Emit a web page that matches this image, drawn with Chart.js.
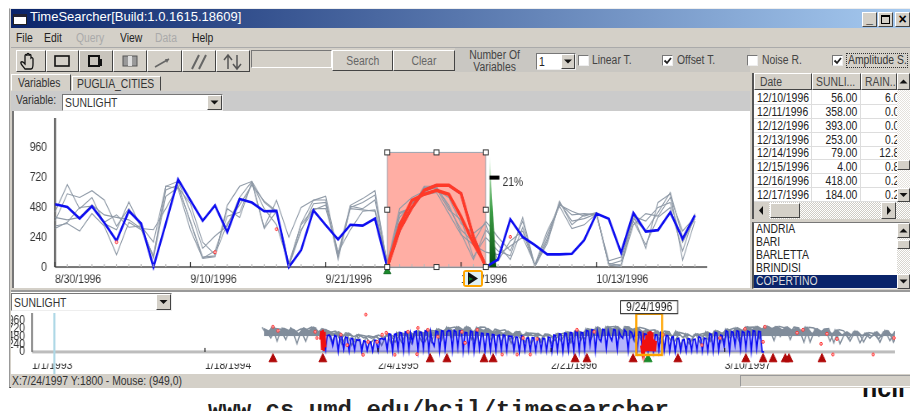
<!DOCTYPE html>
<html>
<head>
<meta charset="utf-8">
<title>TimeSearcher</title>
<script src="https://cdn.jsdelivr.net/npm/chart.js@4"></script>
<style>
  html, body { margin: 0; padding: 0; background: #fff; overflow: hidden; width: 910px; height: 411px; }
  body { position: relative; font-family: "Liberation Sans", sans-serif; font-size: 12.5px; color: #333; }
  #win { position: absolute; left: 9px; top: 8px; width: 901px; height: 380px; background: #d4d0c8; border-top: 1px solid #eee; border-left: 1px solid #999; border-bottom: 1px solid #333; box-sizing: border-box; z-index: 2; }
  .b { position: absolute; white-space: nowrap; box-sizing: border-box; }
  .b span { display: inline-block; transform: scaleX(.83); transform-origin: left center; }
  .up { background: #d4d0c8; border: 1px solid; border-color: #fff #444 #444 #fff; }
  .in { background: #fff; border: 1px solid; border-color: #777 #eee #eee #777; }
  canvas { position: absolute; z-index: 5; transform-origin: left top; transform: scaleX(.83); }
  #url { position: absolute; left: 208px; top: 397px; font: bold 24px "Liberation Mono", monospace; color: #222; white-space: nowrap; z-index: 1; }
  #logo { position: absolute; left: 862px; top: 374px; font: bold 25px "Liberation Sans", sans-serif; color: #111; z-index: 1; }
</style>
</head>
<body>
<div id="win"></div>
<div id="chrome"></div>
<div id="url">www.cs.umd.edu/hcil/timesearcher</div>
<div id="logo">hcil</div>
<canvas id="main-chart" width="887" height="178" style="left:14px;top:112px"></canvas>
<canvas id="overview-chart" width="1083" height="81" style="left:11px;top:293px"></canvas>
<script>
// main plot, one value per day from 8/30/1996
const blue = [505,484,390,489,358,211,452,350,0,350,706,537,372,497,281,548,519,449,452,0,136,457,337,222,340,334,390,0,297,479,618,658,658,591,243,0,61,385,243,176,102,102,107,217,430,388,115,436,286,297,441,227,417];
const grayA = [444,663,470,560,350,300,524,320,83,652,631,300,70,83,497,650,690,320,537,240,480,537,570,110,497,551,615,10,430,480,650,650,480,300,200,370,240,130,370,5,190,520,370,390,430,16,3,420,150,520,590,56,370];
const grayB = [370,590,560,615,540,330,470,330,200,650,690,450,150,250,330,560,690,520,440,10,350,540,540,60,480,520,580,30,470,560,610,640,500,270,60,300,180,60,320,10,260,500,450,410,440,20,50,410,370,480,520,200,390];
const grayC = [330,350,290,430,330,100,360,300,90,620,660,360,70,130,410,440,680,310,450,30,340,470,470,120,300,450,460,40,360,520,580,600,430,260,180,120,100,170,240,20,290,490,310,340,430,15,20,370,180,400,480,130,430];
const grayD = [400,380,400,500,420,400,380,310,300,470,650,370,80,90,470,400,680,470,340,20,300,460,500,100,470,460,450,20,400,510,600,620,560,350,270,350,50,210,290,5,230,530,340,420,430,30,10,340,430,410,560,290,400];
const grayE = [310,360,480,490,360,420,320,330,70,570,640,510,200,100,350,500,660,530,450,5,290,510,520,80,490,470,540,15,440,480,640,630,460,380,80,240,130,90,400,10,210,510,420,430,420,50,80,390,290,440,600,240,410];
const redIdx = [27,28,29,30,31,32,33,34,35];
const redA = [0,337,537,586,618,586,404,190,16];
const redB = [0,297,479,618,658,658,591,243,0];
const dotIdx = [5,13,18,37];
const dotVal = [200,120,305,243];
const greenIdx = [35.3,35.3,35.86];
const greenVal = [0,915,0];
const yTicks = [0,240,480,720,960];
const dateIdx = [0,11,22,33,44];
const dateLabels = ['8/30/1996','9/10/1996','9/21/1996','10/2/1996','10/13/1996'];

// overview, x is days since 1/1/1993
const ovGrayStep = 11;
const ovGrayA = [760,520,780,330,740,560,700,250,720,690,770,560,720,
  650,300,600,240,560,200,520,180,480,420,500,200,
  560,240,600,300,620,260,640,330,680,300,700,360,
  760,420,770,500,780,380,760,460,720,340,
  680,300,640,260,620,360,600,240,560,300,
  540,240,560,340,620,280,640,360,720,380,
  760,420,780,500,790,560,770,430,750,380,
  690,300,660,280,610,360,640,220,560,300,
  560,260,620,320,660,280,700,400,740,360,
  770,500,780,430,790,620,780,470,760,380,
  750,560,770,300,720,610,700,330,680,250,
  600,330,640,280,580,420,610,300,660,350,640];
const ovGrayB = [720,640,760,600,730,660,690,560,740,650,760,620,700,
  640,560,620,500,580,470,540,430,500,460,520,440,
  560,480,600,520,640,540,660,580,690,600,710,640,
  760,640,780,680,770,620,750,660,720,600,
  660,560,640,540,620,520,590,500,570,480,
  540,470,570,500,620,540,660,580,720,640,
  770,650,790,700,780,640,770,690,750,620,
  680,560,650,500,610,480,620,450,560,460,
  560,480,620,540,650,570,710,620,750,660,
  780,690,790,700,800,720,780,680,770,660,
  750,640,760,560,720,620,700,560,680,520,
  620,520,640,500,590,480,620,470,660,520,640];
const ovGrayC = [680,430,720,700,380,740,620,710,330,700,740,450,690,
  610,640,350,590,550,280,520,490,260,470,390,480,
  530,300,580,560,360,620,600,320,670,650,400,690,
  740,770,500,760,740,300,770,760,480,700,
  650,680,380,610,630,300,580,570,320,550,
  530,350,550,580,300,640,620,400,700,680,
  740,500,770,780,420,780,760,320,760,720,
  660,680,380,640,620,300,600,560,250,540,
  540,570,330,640,620,350,680,730,330,720,
  760,770,420,790,770,350,790,750,500,770,
  740,300,760,740,480,700,720,280,690,650,
  400,630,600,300,600,570,390,620,640,300,630];
const ovBlueStep = 4;
const ovBlue = [480,420,60,500,520,460,200,510,480,30,500,470,90,460,440,30,420,400,60,380,360,380,20,340,330,50,300,310,30,360,350,40,400,420,380,
  430,80,560,540,30,540,560,100,600,580,40,620,600,60,580,300,620,640,30,610,600,90,650,630,40,620,300,180,640,620,40,650,640,90,620,
  660,640,60,660,620,120,650,640,30,600,590,80,640,620,40,620,600,110,580,570,30,560,550,60,540,530,40,500,520,70,520,510,30,490,480,
  480,60,460,450,20,500,470,50,420,430,30,440,430,20,400,410,50,420,400,30,460,440,20,520,500,50,560,540,30,580,560,60,600,590,30,
  640,620,30,600,590,60,660,640,200,680,660,40,640,400,320,700,680,120,660,480,350,690,670,90,640,500,420,680,620,60,640,600,400,620,60,
  620,600,30,560,540,40,580,560,20,530,520,40,600,580,50,510,500,30,450,470,20,400,420,40,360,380,20,410,400,30,380,390,50,470,440,
  20,430,410,30,560,540,40,600,580,60,520,500,180,650,620,40,630,600,200,650,630,90,630,600,120,640,620,30,650,640,100,630,620,0,0];
const ovRedDays1 = [636,638,640,642,644,646,648];
const ovRedVals1 = [380,640,60,680,30,620,140];
const ovRedDays2 = [1345,1347,1349,1351,1353,1355,1357,1359,1361,1363,1365,1367,1369,1371,1373,1375,1377];
const ovRedVals2 = [200,20,300,30,380,20,520,30,620,20,640,20,600,20,380,20,340];
const ovDotDays = [532,543,625,629,682,696,737,742,773,782,762,830,852,874,896,949,956,731,801,850,983,1084,1115,1203,1241,1393,1038,1071,1100,1479,1519,1574,1618,1614,1689,1702,1742,1755,1777,1903,1768,1857];
const ovDotVals = [775,650,620,430,530,210,1150,310,530,590,310,620,740,680,470,620,280,-90,-90,-70,680,430,400,680,620,530,-80,-80,-80,210,430,710,775,310,590,680,250,560,400,430,-80,-80];
const ovTriDays = [532,642,879,916,998,1018,1199,1225,1327,1426,1576,1614,1636,1663,1671,1744];
const ovCurrentDay = [1360];
const ovDateDays = [0,382,764,1146,1529];
const ovDateLabels = ['1/1/1993','1/18/1994','2/4/1995','2/21/1996','3/10/1997'];

// table and list in the side panels
const tableDates = ['12/10/1996','12/11/1996','12/12/1996','12/13/1996','12/14/1996','12/15/1996','12/16/1996','12/17/1996'];
const tableSun = ['56.00','358.00','393.00','253.00','79.00','4.00','418.00','184.00'];
const tableRain = ['6.0','0.0','0.0','0.2','12.8','0.8','0.2','0.2'];
const cities = ['ANDRIA','BARI','BARLETTA','BRINDISI','COPERTINO'];

// the screenshot is squeezed sideways, canvases get the same squeeze through css
const sq = 0.83;
const labelFont = { family: '"Liberation Sans"', size: 12.5 };

const chrome = document.getElementById('chrome');
function box(x, y, w, h, cls, text, css) {
  const d = document.createElement('div');
  d.className = 'b ' + (cls || '');
  d.style.cssText = `left:${x}px;top:${y}px;width:${w}px;height:${h}px;line-height:${h}px;z-index:3;` + (css || '');
  if (text) {
    const s = document.createElement('span');
    s.textContent = text;
    css = css || '';
    if (css.includes('font:')) s.style.transform = 'none';
    if (css.includes('text-align:center')) s.style.transformOrigin = 'center center';
    if (css.includes('text-align:right')) s.style.transformOrigin = 'right center';
    d.appendChild(s);
  }
  chrome.appendChild(d);
  return d;
}
function svgBox(x, y, w, h, inner) {
  const d = box(x, y, w, h, '', '');
  d.innerHTML = `<svg width="${w}" height="${h}" style="display:block">${inner}</svg>`;
  return d;
}
function arrowBtn(x, y, w, h, down) {
  box(x, y, w, h, 'up');
  const pts = down ? `${w/2-4},${h/2-2} ${w/2+4},${h/2-2} ${w/2},${h/2+2}` : `${w/2-4},${h/2+2} ${w/2+4},${h/2+2} ${w/2},${h/2-2}`;
  svgBox(x, y, w, h, `<polygon points="${pts}" fill="#111"/>`);
}
function check(x, y, on) {
  box(x, y, 11, 11, 'in');
  if (on) svgBox(x, y, 11, 11, '<path d="M2.5 5.5l2.5 2.5 4-5" stroke="#222" stroke-width="1.8" fill="none"/>');
}

// title bar
box(11, 9, 899, 19, '', '', 'background:linear-gradient(90deg,#0a246a,#a6caf0)');
box(13, 14, 14, 11, '', '', 'background:#fff;border:1px solid #222;border-top:3px solid #223');
box(30, 9, 300, 19, '', 'TimeSearcher[Build:1.0.1615.18609]', 'color:#fff;font:13px "Liberation Sans",sans-serif');
box(862, 12, 15, 15, 'up', '_', 'text-align:center;color:#000;font:bold 12px/12px "Liberation Sans"');
box(878, 12, 15, 15, 'up');
box(881, 15, 9, 9, '', '', 'border:1px solid #000;border-top:2px solid #000');
box(895, 12, 15, 15, 'up', '×', 'text-align:center;color:#000;font:bold 14px/13px "Liberation Sans"');

// menu
const menu = [['File',16,0],['Edit',44,0],['Query',76,1],['View',120,0],['Data',155,1],['Help',192,0]];
menu.forEach(m => box(m[1], 30, 40, 16, '', m[0], m[2] ? 'color:#aaa;' : 'color:#222;'));

// toolbar
box(11, 47, 899, 1, '', '', 'background:#aaa');
const toolX = [16,46,79,113,147,182,216];
const toolIcons = [
  '<path d="M9 19c-2-3-5-5-4-7 2-1 3 1 4 2V6c0-2 2-2 2 0v-1c0-2 2-2 2 0v1c0-2 2-2 2 0v2c1-1 2 0 2 1v5c0 3-1 5-2 5z" fill="none" stroke="#111" stroke-width="1.3"/>',
  '<rect x="9" y="6" width="14" height="10" fill="none" stroke="#111" stroke-width="1.6"/>',
  '<rect x="10" y="6" width="10" height="10" fill="none" stroke="#111" stroke-width="2"/><rect x="21" y="9" width="2" height="7" fill="#111"/>',
  '<rect x="10" y="6" width="14" height="10" fill="#999" stroke="#555"/><rect x="15" y="6" width="4" height="10" fill="#ddd"/>',
  '<path d="M8 17l14-8" stroke="#666" stroke-width="1.5"/><path d="M22 9l-4 0 2 4z" fill="#666"/>',
  '<path d="M10 19l7-14M17 19l7-14" stroke="#666" stroke-width="2"/>',
  '<path d="M12 19V6M8 10l4-5 4 5M21 5v13M17 14l4 5 4-5" fill="none" stroke="#555" stroke-width="1.5"/>'
];
toolX.forEach((x, i) => {
  box(x, 50, (toolX[i + 1] || 250) - x, 22, 'up', '', i === 2 ? 'background:#c8c4bc' : '');
  svgBox(x, 50, 33, 22, toolIcons[i]);
});
box(251, 50, 81, 18, '', '', 'border:1px solid;border-color:#777 #fff #fff #777');
box(332, 50, 61, 21, 'up', 'Search', 'text-align:center;color:#666');
box(393, 50, 62, 21, 'up', 'Clear', 'text-align:center;color:#666');
box(455, 48, 295, 24, '', '', 'background:#c9c7c2');
box(455, 49, 80, 13, '', 'Number Of', 'text-align:center;color:#444');
box(455, 61, 80, 13, '', 'Variables', 'text-align:center;color:#444');
box(536, 53, 40, 17, 'in', '1', 'padding-left:2px;color:#222');
arrowBtn(561, 54, 14, 15, true);
check(578, 55, false); box(592, 53, 60, 15, '', 'Linear T.', 'color:#444');
check(662, 55, true);  box(677, 53, 60, 15, '', 'Offset T.', 'color:#444');
check(747, 55, false); box(762, 53, 60, 15, '', 'Noise R.', 'color:#444');
check(832, 55, true);  box(846, 53, 62, 15, '', 'Amplitude S.', 'color:#333;border:1px dotted #333;line-height:13px;padding-left:1px');

// tabs and variable row
box(11, 74, 60, 17, '', 'Variables', 'padding-left:6px;border:1px solid;border-color:#fff #444 #d4d0c8 #fff;color:#333');
box(72, 76, 89, 15, '', 'PUGLIA_CITIES', 'padding-left:4px;border:1px solid;border-color:#fff #444 #ccc #fff;color:#333');
box(11, 91, 739, 20, '', '', 'background:#cbcbcb');
box(16, 92, 46, 17, '', 'Variable:', 'color:#333');
box(62, 94, 161, 17, 'in', 'SUNLIGHT', 'padding-left:2px;color:#333');
arrowBtn(207, 95, 15, 15, true);
box(12, 111, 738, 177, '', '', 'background:#fff;border-left:2px solid #777');

// table
box(752, 73, 158, 146, '', '', 'background:#fff;border-left:2px solid #555');
box(754, 73, 58, 17, 'up', 'Date', 'padding-left:5px;color:#444');
box(812, 73, 49, 17, 'up', 'SUNLI...', 'padding-left:3px;color:#444');
box(861, 73, 36, 17, 'up', 'RAIN..', 'padding-left:3px;color:#444');
arrowBtn(897, 73, 13, 17, false);
tableDates.forEach((d, i) => {
  const y = 91 + i * 13.85;
  box(757, y, 56, 14, '', d, 'color:#222');
  box(812, y, 45, 14, '', tableSun[i], 'text-align:right;color:#222');
  const rain = box(861, y, 36, 14, '', tableRain[i], 'text-align:right;color:#222;overflow:hidden');
  rain.firstChild.style.marginRight = '-2px';
  box(754, y + 13, 143, 1, '', '', 'background:#ddd');
});
box(811, 90, 1, 112, '', '', 'background:#ddd');
box(860, 90, 1, 112, '', '', 'background:#ddd');
box(897, 90, 13, 112, '', '', 'background:repeating-conic-gradient(#e4e2dc 0 25%,#fff 0 50%) 0 0/2px 2px');
box(897, 160, 13, 10, 'up');
arrowBtn(897, 188, 13, 14, true);
box(754, 202, 156, 17, '', '', 'background:repeating-conic-gradient(#cfccc5 0 25%,#fff 0 50%) 0 0/2px 2px');
arrowBtn(754, 202, 15, 17, false);
svgBox(754, 202, 15, 17, '<rect width="15" height="17" fill="#d4d0c8"/><polygon points="9,4 9,13 5,8.5" fill="#111"/>');
box(770, 203, 30, 15, 'up');
box(881, 202, 15, 17, 'up');
svgBox(881, 202, 15, 17, '<polygon points="6,4 6,13 10,8.5" fill="#111"/>');

// city list
box(752, 222, 158, 67, 'in', '', 'border-left:2px solid #555');
cities.forEach((c, i) => {
  const sel = i === cities.length - 1;
  box(754, 223 + i * 13.1, 143, 13, '', c, sel ? 'background:#0a246a;color:#ddd;padding-left:2px' : 'color:#222;padding-left:2px');
});
box(897, 223, 13, 66, '', '', 'background:repeating-conic-gradient(#d8d6d0 0 25%,#fff 0 50%) 0 0/2px 2px');
arrowBtn(897, 223, 13, 15, false);
box(897, 240, 13, 9, 'up');
arrowBtn(897, 274, 13, 15, true);

// lower panel
box(11, 290, 899, 84, '', '', 'background:#fff;border-top:2px solid #999');
box(11, 293, 161, 18, 'in', 'SUNLIGHT', 'padding-left:2px;color:#333');
arrowBtn(156, 294, 15, 16, true);
box(11, 374, 899, 14, '', 'X:7/24/1997 Y:1800 - Mouse: (949,0)', 'padding-left:1px;color:#333;background:#d4d0c8');
box(740, 375, 170, 12, '', '', 'border-left:1px solid #999;border-top:1px solid #999;border-bottom:1px solid #fff');

// play button under the selection
box(463, 270, 20, 17, '', '', 'background:#ffa500;border-radius:3px;z-index:7');
box(465, 272, 16, 13, '', '', 'background:#dff0f5;z-index:7');
const play = svgBox(467, 272, 12, 13, '<polygon points="1,0 11,6.5 1,13" fill="#111"/><polygon points="2,5 6,7 2,9" fill="#0a7a20"/>');
play.style.zIndex = 8;

function xy(xs, ys) { return xs.map((x, i) => ({ x: x, y: ys[i] })); }
function fromStart(start, step, ys) { return ys.map((y, i) => ({ x: start + i * step, y: y })); }
function grayLine(values) {
  return { data: values.map((y, i) => ({ x: i, y: y })), borderColor: '#8f9aa7', borderWidth: 1.1, pointRadius: 0, order: 5 };
}
function noPad(s) { s.paddingTop = 0; s.paddingBottom = 0; s.paddingLeft = 0; s.paddingRight = 0; }

// both y scales run below zero so the markers under the axis get drawn, axes go in by hand at y=0
function drawAxes(chart, xColor, xHeight, yColor, yWidth) {
  const c = chart.ctx, a = chart.chartArea, y0 = chart.scales.y.getPixelForValue(0);
  c.fillStyle = xColor;
  c.fillRect(a.left, y0 - xHeight / 2, a.right - a.left, xHeight);
  c.fillStyle = yColor;
  c.fillRect(a.left - yWidth / 2, a.top, yWidth, y0 - a.top);
}

// selection box, query result marker and tick marks of the main plot
const boxFrom = 27, boxTo = 35, boxTop = 923;
const mainMarks = {
  id: 'mainMarks',
  beforeDatasetsDraw(chart) {
    const c = chart.ctx, x = chart.scales.x, y = chart.scales.y;
    drawAxes(chart, '#777', 2, '#555', 2 / sq);
    c.fillStyle = '#ffaea4';
    c.fillRect(x.getPixelForValue(boxFrom), y.getPixelForValue(boxTop), x.getPixelForValue(boxTo) - x.getPixelForValue(boxFrom), y.getPixelForValue(0) - y.getPixelForValue(boxTop));
  },
  afterDatasetsDraw(chart) {
    const c = chart.ctx, x = chart.scales.x, y = chart.scales.y;
    const y0 = y.getPixelForValue(0);
    blue.forEach((v, i) => {
      const major = dateIdx.includes(i);
      c.fillStyle = major ? '#222' : '#bbb';
      c.fillRect(x.getPixelForValue(i) - 0.6, y0 - (major ? 5 : 3), 1.2, major ? 5 : 3);
    });
    const l = x.getPixelForValue(boxFrom), r = x.getPixelForValue(boxTo), t = y.getPixelForValue(boxTop);
    c.strokeStyle = '#9aa4b0';
    c.lineWidth = 1;
    c.strokeRect(l, t, r - l, y0 - t);
    const hw = 5 / sq;
    [l, (l + r) / 2, r].forEach(hx => [t, (t + y0) / 2, y0].forEach(hy => {
      if (hx === (l + r) / 2 && hy === (t + y0) / 2) return;
      c.fillStyle = '#fff';
      c.strokeStyle = '#333';
      c.fillRect(hx - hw / 2, hy - 2.5, hw, 5);
      c.strokeRect(hx - hw / 2, hy - 2.5, hw, 5);
    }));
    const mx = x.getPixelForValue(greenIdx[0]), my = y.getPixelForValue(720);
    c.fillStyle = '#000';
    c.fillRect(mx, my - 2, 10 / sq, 4);
    c.fillStyle = '#333';
    c.font = '12.5px "Liberation Sans"';
    c.textAlign = 'left';
    c.textBaseline = 'middle';
    c.fillText('21%', mx + 13 / sq, my + 5);
  }
};

const mainChart = new Chart(document.getElementById('main-chart'), {
  type: 'line',
  data: {
    datasets: [
      grayLine(grayA), grayLine(grayB), grayLine(grayC), grayLine(grayD), grayLine(grayE),
      { data: blue.map((y, i) => ({ x: i, y: y })), borderColor: '#0e0ef0', borderWidth: 2.6, pointRadius: 0, order: 3 },
      { data: xy(redIdx, redA), borderColor: '#ff3a28', borderWidth: 3.4, pointRadius: 0, order: 2 },
      { data: xy(redIdx, redB), borderColor: '#ff3a28', borderWidth: 3.4, pointRadius: 0, order: 2 },
      { data: xy(dotIdx, dotVal), showLine: false, pointRadius: 1.5, pointBackgroundColor: '#ffd0d0', pointBorderColor: '#f33', pointBorderWidth: 1, order: 1 },
      { data: xy([boxFrom], [-35]), showLine: false, pointStyle: 'triangle', pointRadius: 5, pointBackgroundColor: '#1a8a2a', pointBorderColor: '#1a6a2a', order: 1 },
      { data: xy(greenIdx, greenVal), fill: 'origin', borderWidth: 0, pointRadius: 0, order: 4,
        backgroundColor(ctx) {
          const a = ctx.chart.chartArea;
          if (!a) return '#0a6a14';
          const g = ctx.chart.ctx.createLinearGradient(0, a.bottom - 122, 0, a.bottom - 7);
          g.addColorStop(0, '#e6fae6');
          g.addColorStop(0.5, '#3f9f48');
          g.addColorStop(1, '#06500e');
          return g;
        } }
    ]
  },
  plugins: [mainMarks],
  options: {
    responsive: false,
    animation: false,
    layout: { padding: { top: 6, right: 43 / sq } },
    plugins: { legend: { display: false }, tooltip: { enabled: false } },
    elements: { line: { tension: 0 } },
    scales: {
      x: {
        type: 'linear', min: 0, max: 53, bounds: 'data',
        afterFit(s) { s.height = 15.5; noPad(s); },
        afterBuildTicks(s) { s.ticks = dateIdx.map(v => ({ value: v })); },
        grid: { display: false, drawTicks: false },
        border: { display: false },
        ticks: { autoSkip: false, maxRotation: 0, align: 'start', padding: -2.5, color: '#333', font: labelFont,
          callback: v => dateLabels[dateIdx.indexOf(v)] }
      },
      y: {
        min: -60, max: 1200, bounds: 'data',
        afterFit(s) { s.width = 41 / sq; noPad(s); },
        afterBuildTicks(s) { s.ticks = yTicks.map(v => ({ value: v })); },
        grid: { display: false, drawTicks: false },
        border: { display: false },
        ticks: { padding: 8 / sq, color: '#333', autoSkip: false, font: labelFont }
      }
    }
  }
});

// day cursor, orange brush and its date label in the overview
const cursorDay = 49, brushFrom = 1334, brushTo = 1391, brushTop = 1178, brushBottom = -93;
const ovMarks = {
  id: 'ovMarks',
  beforeDatasetsDraw(chart) {
    drawAxes(chart, '#bdbdbd', 3, '#666', 1.5 / sq);
  },
  afterDatasetsDraw(chart) {
    const c = chart.ctx, x = chart.scales.x, y = chart.scales.y;
    const cx = x.getPixelForValue(cursorDay);
    c.fillStyle = '#add8e6';
    c.fillRect(cx - 1, y.getPixelForValue(1200), 2 / sq, 61);
    c.fillStyle = '#111';
    ovDateDays.slice(1).forEach(d => c.fillRect(x.getPixelForValue(d) - 0.6, y.getPixelForValue(0) - 4, 1.2, 4));
    const l = x.getPixelForValue(brushFrom), r = x.getPixelForValue(brushTo);
    const t = y.getPixelForValue(brushTop), b = y.getPixelForValue(brushBottom);
    c.strokeStyle = '#ffa500';
    c.lineWidth = 2.5;
    c.strokeRect(l, t, r - l, b - t);
    const mid = (l + r) / 2, w = 57 / sq, h = 13;
    c.fillStyle = '#fff';
    c.strokeStyle = '#111';
    c.lineWidth = 1;
    c.fillRect(mid - w / 2, t - h, w, h);
    c.strokeRect(mid - w / 2, t - h, w, h);
    c.fillStyle = '#222';
    c.font = '12.5px "Liberation Sans"';
    c.textAlign = 'center';
    c.textBaseline = 'middle';
    c.fillText('9/24/1996', mid, t - h / 2 + 0.5);
  }
};

const ovLine = { pointRadius: 0, borderColor: '#818d9b', borderWidth: 1.5, order: 5 };
const overviewChart = new Chart(document.getElementById('overview-chart'), {
  type: 'line',
  data: {
    datasets: [
      { ...ovLine, data: fromStart(508, ovGrayStep, ovGrayA) },
      { ...ovLine, data: fromStart(512, ovGrayStep, ovGrayB), fill: { target: { value: 480 }, above: '#818d9b', below: 'transparent' } },
      { ...ovLine, data: fromStart(516, ovGrayStep, ovGrayC) },
      { data: fromStart(640, ovBlueStep, ovBlue), borderColor: '#0b0bf2', borderWidth: 1.7, pointRadius: 0, order: 4, fill: { target: { value: 0 }, above: 'rgba(11,11,242,0.3)' } },
      { data: xy(ovRedDays1, ovRedVals1), borderColor: '#f01010', borderWidth: 2.4, pointRadius: 0, order: 3 },
      { data: xy(ovRedDays2, ovRedVals2), borderColor: '#f01010', borderWidth: 3, pointRadius: 0, order: 3 },
      { data: xy(ovDotDays, ovDotVals), showLine: false, pointRadius: 1.5, pointBackgroundColor: '#ffb0b0', pointBorderColor: '#f33', pointBorderWidth: 1, clip: false, order: 2 },
      { data: ovTriDays.map(d => ({ x: d, y: -220 })), showLine: false, pointStyle: 'triangle', pointRadius: 5.5, pointBackgroundColor: '#b00808', pointBorderColor: '#b00808', clip: false, order: 1 },
      { data: ovCurrentDay.map(d => ({ x: d, y: -220 })), showLine: false, pointStyle: 'triangle', pointRadius: 5.5, pointBackgroundColor: '#1a8a2a', pointBorderColor: '#1a8a2a', clip: false, order: 1 }
    ]
  },
  plugins: [ovMarks],
  options: {
    responsive: false,
    animation: false,
    layout: { padding: { top: 20, right: 15 / sq } },
    plugins: { legend: { display: false }, tooltip: { enabled: false } },
    elements: { line: { tension: 0 } },
    scales: {
      x: {
        type: 'linear', min: 0, max: 1905, bounds: 'data',
        afterFit(s) { s.height = 10.4; noPad(s); },
        afterBuildTicks(s) { s.ticks = ovDateDays.map(v => ({ value: v })); },
        grid: { display: false, drawTicks: false },
        border: { display: false },
        ticks: { autoSkip: false, maxRotation: 0, align: 'start', padding: -5.5, color: '#333', font: labelFont,
          callback: v => ovDateLabels[ovDateDays.indexOf(v)] }
      },
      y: {
        min: -360, max: 1200, bounds: 'data',
        afterFit(s) { s.width = 21 / sq; noPad(s); },
        afterBuildTicks(s) { s.ticks = yTicks.map(v => ({ value: v })); },
        grid: { display: false, drawTicks: false },
        border: { display: false },
        ticks: { padding: 7 / sq, color: '#333', autoSkip: false, font: labelFont }
      }
    }
  }
});
</script>
</body>
</html>
